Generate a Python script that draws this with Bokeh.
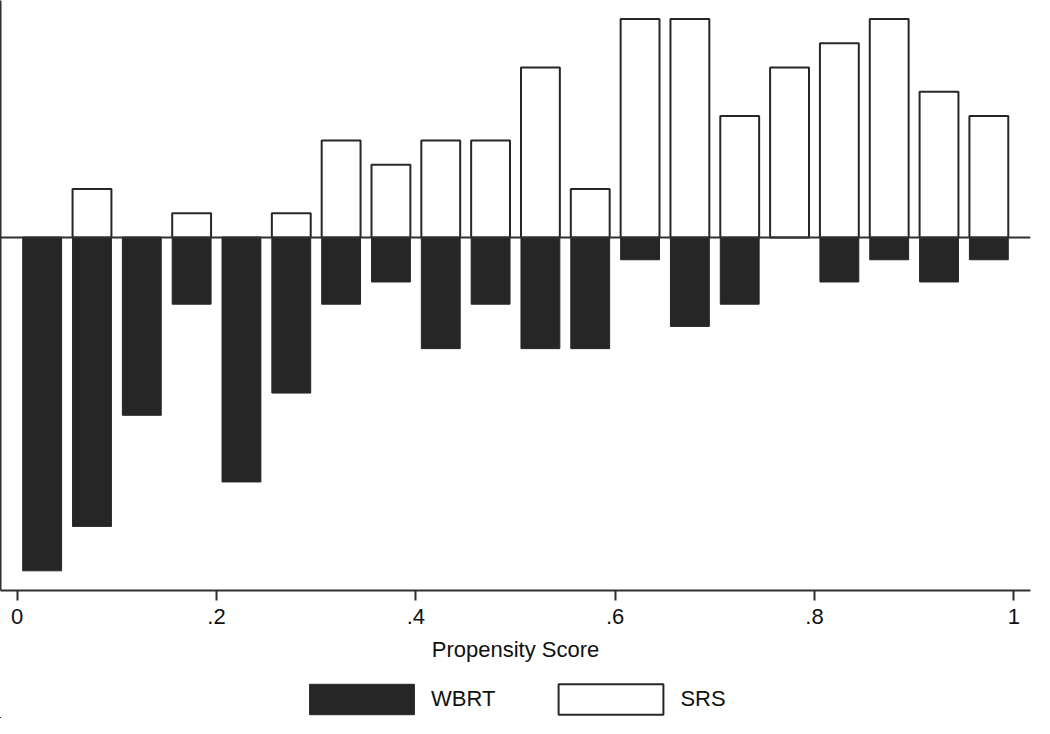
from bokeh.plotting import figure
from bokeh.layouts import column
from bokeh.models import (ColumnDataSource, FixedTicker, CustomJSTickFormatter, Span,
                          Legend, LegendItem, Range1d)
from bokeh.embed import file_html
from bokeh.resources import INLINE

# ---- data (counts per propensity-score bin) ----
bin_centers = [0.025, 0.075, 0.125, 0.175, 0.225, 0.275, 0.325, 0.375, 0.425, 0.475,
               0.525, 0.575, 0.625, 0.675, 0.725, 0.775, 0.825, 0.875, 0.925, 0.975]
bin_width = 0.05
wbrt_counts = [15, 13, 8, 3, 11, 7, 3, 2, 5, 3, 5, 5, 1, 4, 3, 0, 2, 1, 2, 1]
srs_counts = [0, 2, 0, 1, 0, 1, 4, 3, 4, 4, 7, 2, 9, 9, 5, 7, 8, 9, 6, 5]
x_ticks = [0, 0.2, 0.4, 0.6, 0.8, 1]
series_labels = ["WBRT", "SRS"]

# densities (histogram scaled to area 1 for each group)
wbrt_total = sum(wbrt_counts)
srs_total = sum(srs_counts)
wbrt_density = [c / (wbrt_total * bin_width) for c in wbrt_counts]
srs_density = [c / (srs_total * bin_width) for c in srs_counts]

src = ColumnDataSource(dict(
    x=bin_centers,
    wbrt_bottom=[-d for d in wbrt_density],
    srs_top=srs_density,
    zero=[0.0] * len(bin_centers),
))

FONT = "Liberation Sans"
DARK = "#262626"
AX = "#303030"

p = figure(frame_width=1030, frame_height=590, output_backend="svg", toolbar_location=None,
           x_range=Range1d(-0.0168, 1.0168), y_range=Range1d(-3.38, 2.27),
           min_border_left=0, min_border_right=2, min_border_top=0, min_border_bottom=0)
p.outline_line_color = None
p.xgrid.visible = False
p.ygrid.visible = False
p.background_fill_color = "white"
p.border_fill_color = "white"

bar_w = 0.039
r_srs = p.vbar(x="x", bottom="zero", top="srs_top", width=bar_w, source=src,
               fill_color="white", line_color=DARK, line_width=2)
r_wbrt = p.vbar(x="x", bottom="wbrt_bottom", top="zero", width=bar_w, source=src,
                fill_color=DARK, line_color=DARK, line_width=1)

p.add_layout(Span(location=0, dimension="width", line_color=AX, line_width=2))

# x axis
xa = p.xaxis[0]
xa.ticker = FixedTicker(ticks=x_ticks)
xa.formatter = CustomJSTickFormatter(code="""
    if (tick == 0) return "0";
    if (tick == 1) return "1";
    return tick.toFixed(1).replace(/^0/, "");
""")
xa.axis_label = "Propensity Score"
xa.axis_label_text_font = FONT
xa.axis_label_text_font_size = "22px"
xa.axis_label_text_font_style = "normal"
xa.axis_label_text_color = "#111111"
xa.axis_label_standoff = 10
xa.major_label_text_font = FONT
xa.major_label_text_font_size = "22px"
xa.major_label_text_color = "#111111"
xa.major_label_standoff = 8
xa.major_tick_in = 0
xa.major_tick_out = 10
xa.minor_tick_line_color = None
xa.axis_line_color = AX
xa.axis_line_width = 2
xa.major_tick_line_color = AX
xa.major_tick_line_width = 2

# y axis: line only
ya = p.yaxis[0]
ya.ticker = FixedTicker(ticks=[])
ya.major_tick_line_color = None
ya.minor_tick_line_color = None
ya.major_label_standoff = 0
ya.axis_line_color = AX
ya.axis_line_width = 2

# ---- legend strip (separate figure below the chart) ----
# Proxy renderers reuse the same data but lie outside this strip's ranges,
# so only their legend swatches are visible.
pl = figure(width=1034, height=54, output_backend="svg", toolbar_location=None,
            x_range=Range1d(10, 11), y_range=Range1d(10, 11),
            x_axis_location=None, y_axis_location=None,
            min_border_left=0, min_border_right=0, min_border_top=0, min_border_bottom=0)
pl.outline_line_color = None
pl.xgrid.visible = False
pl.ygrid.visible = False
lg_wbrt = pl.vbar(x="x", bottom="wbrt_bottom", top="zero", width=bar_w, source=src,
                  fill_color=DARK, line_color=DARK, line_width=1)
lg_srs = pl.vbar(x="x", bottom="zero", top="srs_top", width=bar_w, source=src,
                 fill_color="white", line_color=DARK, line_width=2)

legend = Legend(items=[LegendItem(label=series_labels[0], renderers=[lg_wbrt]),
                       LegendItem(label=series_labels[1], renderers=[lg_srs])],
                orientation="horizontal", location=(296, 0),
                glyph_width=131, glyph_height=38,
                label_text_font=FONT, label_text_font_size="22px",
                label_text_color="#111111", label_standoff=4, spacing=50,
                border_line_color=None, background_fill_alpha=0,
                padding=0, margin=0)
pl.add_layout(legend, "center")

layout = column(p, pl, spacing=0)
open("out.html", "w").write(file_html(layout, INLINE))
